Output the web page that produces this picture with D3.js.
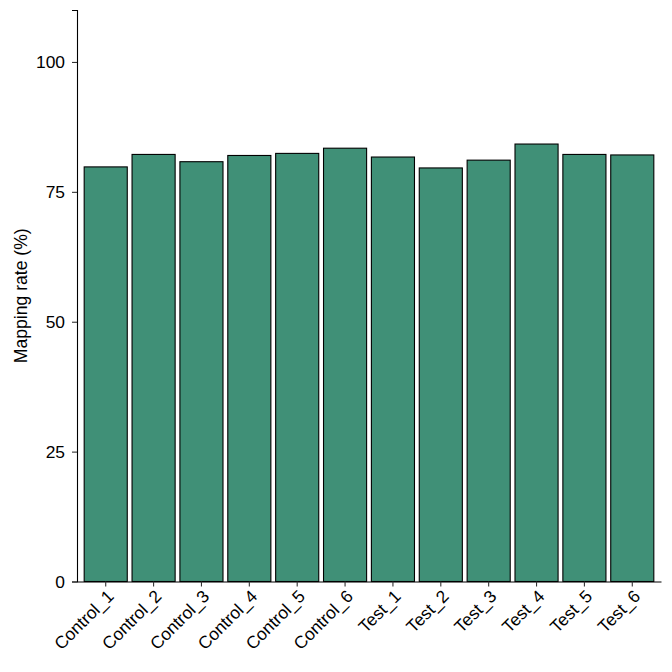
<!DOCTYPE html>
<html>
<head>
<meta charset="utf-8">
<script src="https://cdn.jsdelivr.net/npm/d3@7"></script>
<style>
  body { margin: 0; background: #fff; }
  text { font-family: "Liberation Sans", Arial, sans-serif; fill: #000; }
</style>
</head>
<body>
<svg id="chart" width="672" height="672"></svg>
<script>
// samples and mapping rates (%)
var samples = ['Control_1', 'Control_2', 'Control_3', 'Control_4', 'Control_5', 'Control_6',
               'Test_1', 'Test_2', 'Test_3', 'Test_4', 'Test_5', 'Test_6'];
var mappingRate = [79.8, 82.2, 80.8, 82.0, 82.4, 83.4, 81.7, 79.6, 81.1, 84.2, 82.2, 82.1];
var yTicks = [0, 25, 50, 75, 100];

var margin = {top: 10, right: 11, bottom: 90.5, left: 77};
var width = 672 - margin.left - margin.right;
var height = 672 - margin.top - margin.bottom;

var svg = d3.select('#chart');
var g = svg.append('g').attr('transform', 'translate(' + margin.left + ',' + margin.top + ')');

// discrete scale, 0.6 step of room on each side like ggplot
var x = d3.scaleBand()
  .domain(samples)
  .range([0, width])
  .paddingInner(0.1)
  .paddingOuter(0.15);

var y = d3.scaleLinear().domain([0, 110]).range([height, 0]);

// bars
g.selectAll('rect.bar')
  .data(samples)
  .enter().append('rect')
    .attr('class', 'bar')
    .attr('x', function(d){ return x(d); })
    .attr('width', x.bandwidth())
    .attr('y', function(d, i){ return y(mappingRate[i]); })
    .attr('height', function(d, i){ return y(0) - y(mappingRate[i]); })
    .attr('fill', '#409077')
    .attr('stroke', '#000')
    .attr('stroke-width', 1.1);

// y axis
var yAxis = g.append('g')
  .call(d3.axisLeft(y).tickValues(yTicks).tickSize(5).tickPadding(7).tickFormat(d3.format('d')));
yAxis.select('.domain').attr('stroke', '#000').attr('stroke-width', 1.1);
yAxis.selectAll('.tick line').attr('stroke', '#333').attr('stroke-width', 1.1);
yAxis.selectAll('.tick text').style('font-size', '17.4px').attr('fill', '#000');

// x axis
var xAxis = g.append('g')
  .attr('transform', 'translate(0,' + height + ')')
  .call(d3.axisBottom(x).tickSize(5).tickSizeOuter(0));
xAxis.select('.domain').attr('stroke', '#000').attr('stroke-width', 1.1);
xAxis.selectAll('.tick line').attr('stroke', '#333').attr('stroke-width', 1.1);
xAxis.selectAll('.tick text')
  .style('font-size', '17.4px')
  .attr('fill', '#000')
  .attr('text-anchor', 'end')
  .attr('dy', null)
  .attr('y', 0)
  .attr('transform', 'translate(9,16) rotate(-45)');

// y axis title
svg.append('text')
  .attr('transform', 'translate(27,' + (margin.top + height / 2) + ') rotate(-90)')
  .attr('text-anchor', 'middle')
  .style('font-size', '17.6px')
  .text('Mapping rate (%)');
</script>
</body>
</html>
